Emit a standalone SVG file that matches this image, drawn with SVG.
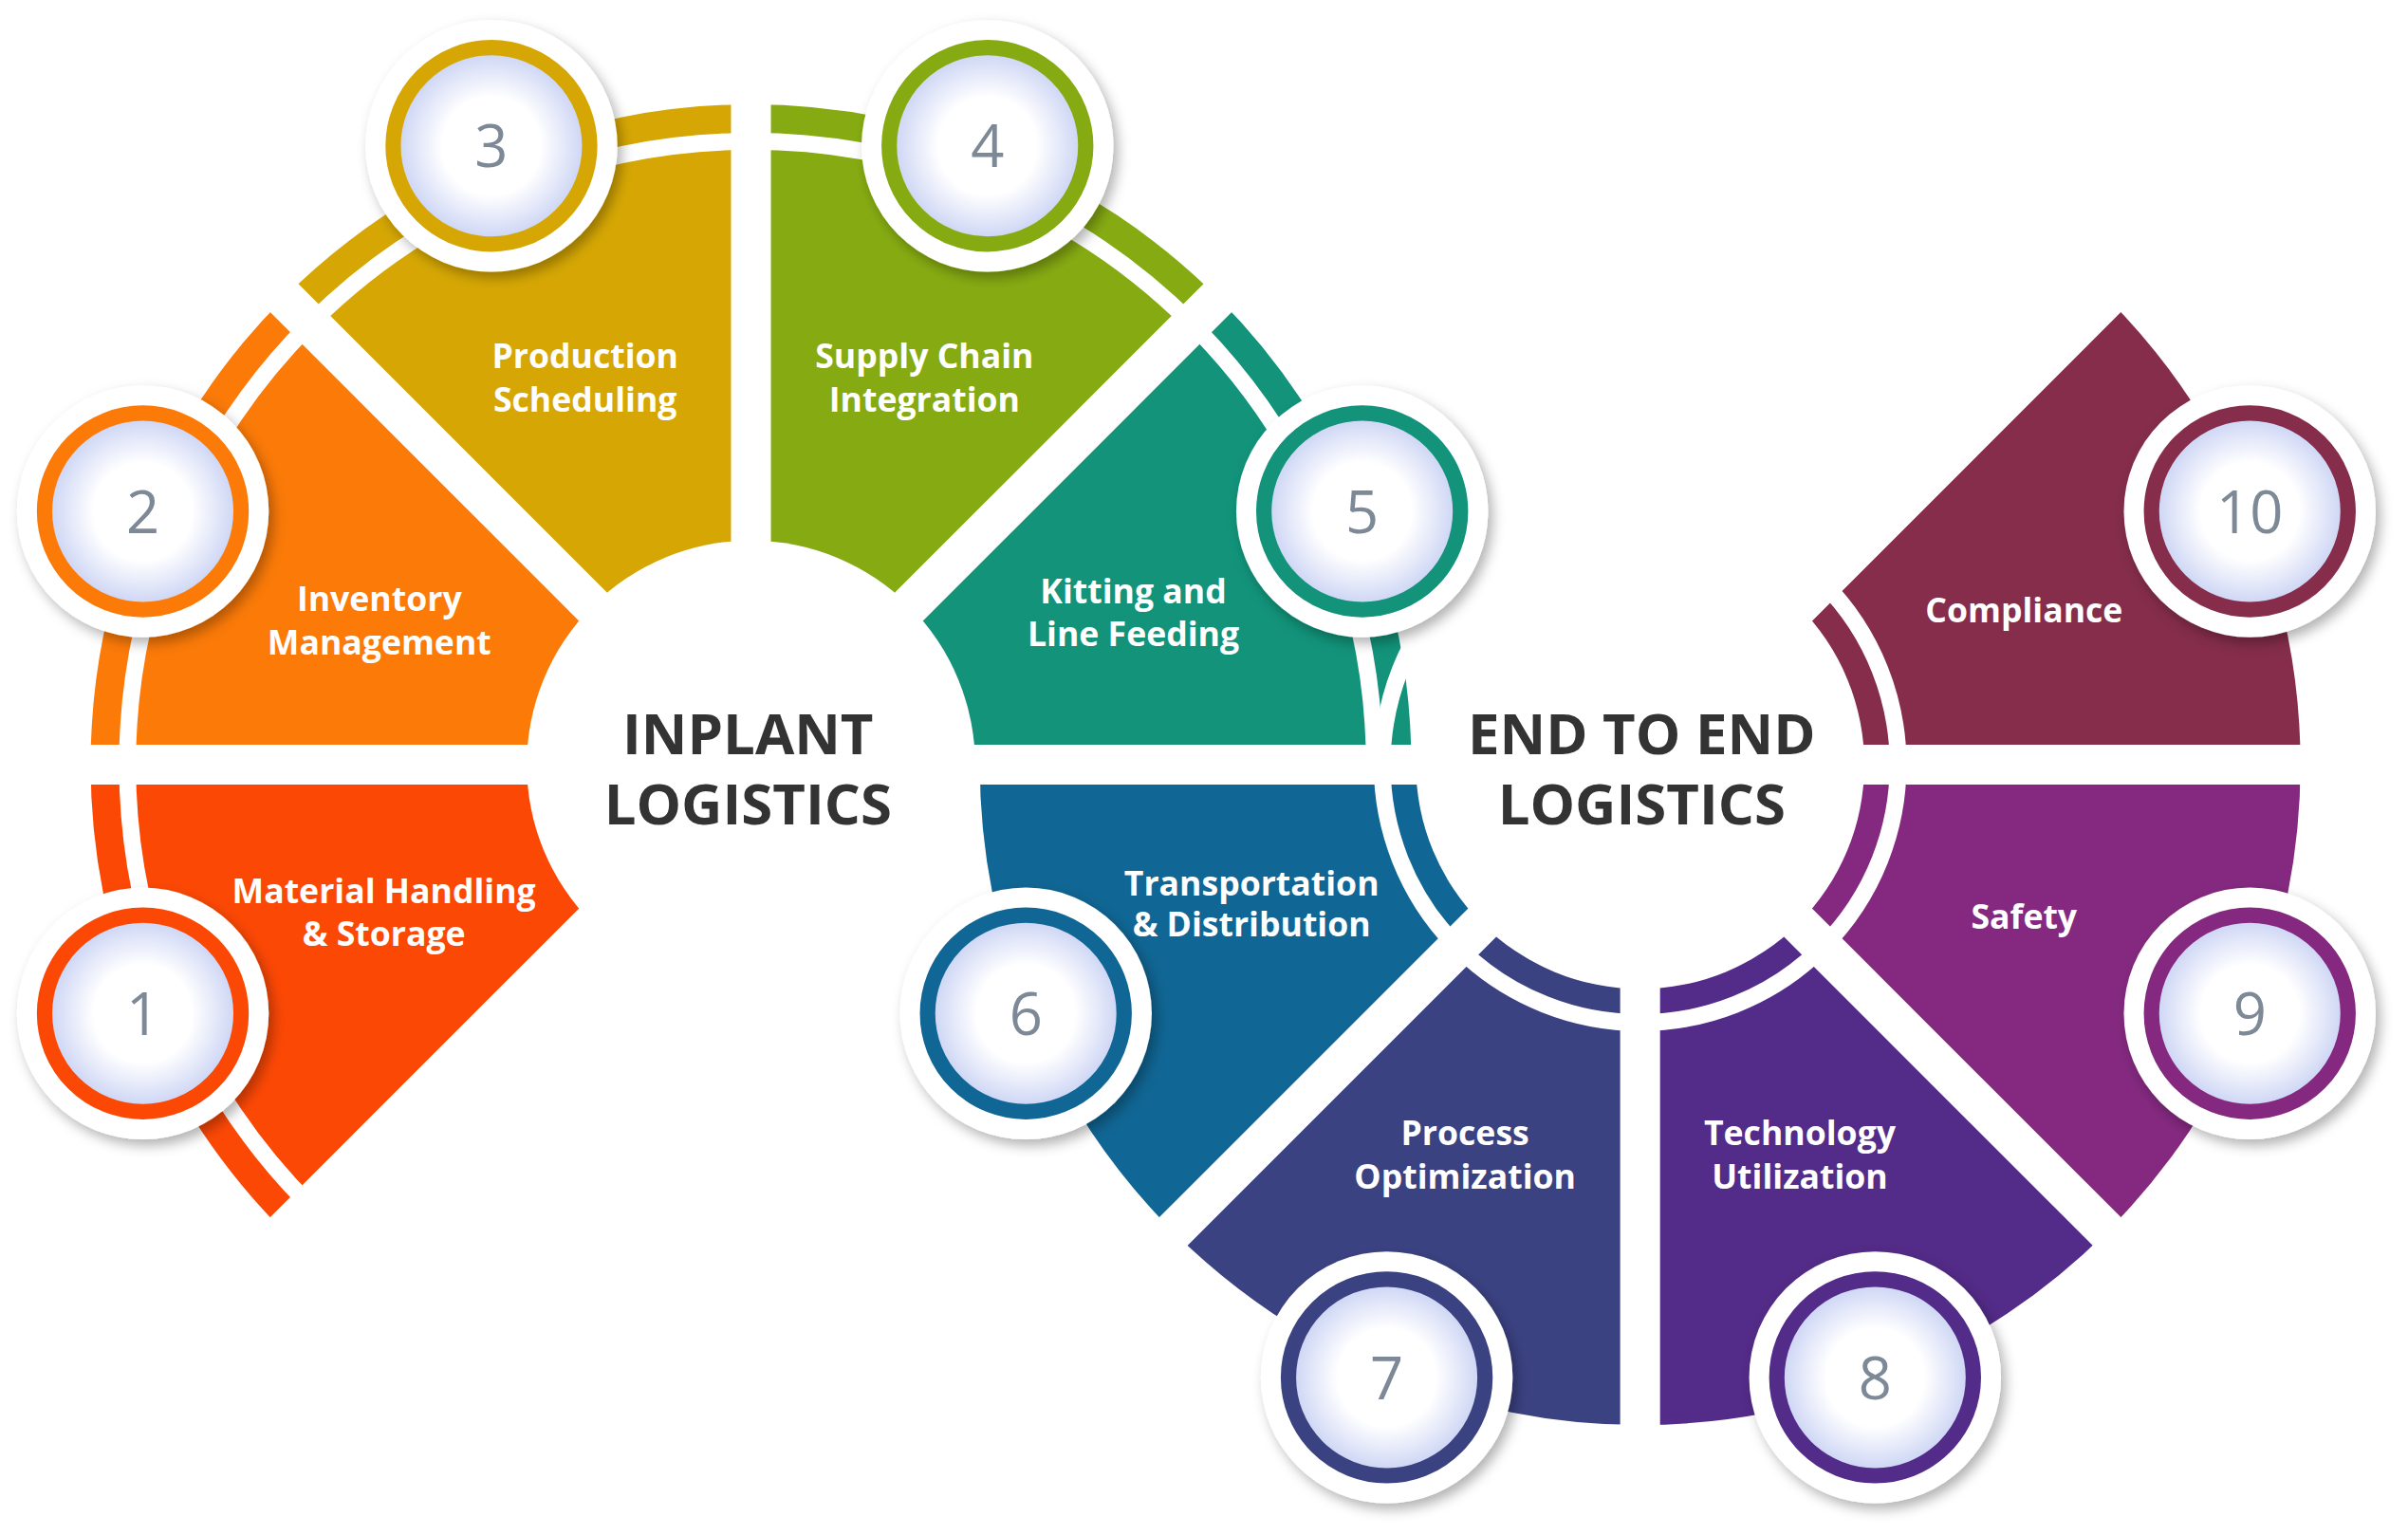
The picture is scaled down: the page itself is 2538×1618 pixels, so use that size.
<svg xmlns="http://www.w3.org/2000/svg" width="2538" height="1618" viewBox="0 0 2538 1618">
<style>
.lbl{font-family:"Open Sans","Liberation Sans",sans-serif;font-weight:700;font-size:22px;fill:#fff;text-anchor:middle}
.ttl{font-family:"Open Sans","Liberation Sans",sans-serif;font-weight:700;font-size:37px;fill:#333;text-anchor:middle}
.num{font-family:"Open Sans","Liberation Sans",sans-serif;font-size:38px;fill:#7d8996;text-anchor:middle}
.gap{stroke:#fff;stroke-width:26;fill:none}
</style>
<defs>
<radialGradient id="bg" cx="50%" cy="50%" r="50%"><stop offset="0.5" stop-color="#fff"/><stop offset="1" stop-color="#c7d0f3"/></radialGradient>
<filter id="sh" x="-30%" y="-30%" width="160%" height="160%"><feDropShadow dx="3" dy="4" stdDeviation="4" flood-color="#000" flood-opacity="0.3"/></filter>
</defs>
<rect width="2538" height="1618" fill="#fff"/>
<g transform="scale(1.6186)">
<g id="inplant">
<path id="seg1" d="M489,498 L184.94,802.06 A430,430 0 0 1 59,498 Z" fill="#fc4805"/>
<path id="seg2" d="M489,498 L59,498 A430,430 0 0 1 184.94,193.94 Z" fill="#fb7a08"/>
<path id="seg3" d="M489,498 L184.94,193.94 A430,430 0 0 1 489,68 Z" fill="#d6a704"/>
<path id="seg4" d="M489,498 L489,68 A430,430 0 0 1 793.06,193.94 Z" fill="#86ab12"/>
<path id="seg5" d="M489,498 L793.06,193.94 A430,430 0 0 1 919,498 Z" fill="#12937a"/>
<circle cx="489" cy="498" r="406" fill="none" stroke="#fff" stroke-width="11"/>
<circle cx="489" cy="498" r="146" fill="#fff"/>
</g>
<g id="endtoend">
<path id="seg6" d="M1068,498 L763.94,802.06 A430,430 0 0 1 638,498 Z" fill="#106694"/>
<path id="seg7" d="M1068,498 L1068,928 A430,430 0 0 1 763.94,802.06 Z" fill="#3b4282"/>
<path id="seg8" d="M1068,498 L1372.06,802.06 A430,430 0 0 1 1068,928 Z" fill="#532b88"/>
<path id="seg9" d="M1068,498 L1498,498 A430,430 0 0 1 1372.06,802.06 Z" fill="#84297f"/>
<path id="seg10" d="M1068,498 L1372.06,193.94 A430,430 0 0 1 1498,498 Z" fill="#852d4a"/>
<circle cx="1068" cy="498" r="168" fill="none" stroke="#fff" stroke-width="11"/>
<circle cx="1068" cy="498" r="146" fill="#fff"/>
</g>
<g id="connectors" class="gap">
<line x1="40" y1="498" x2="1520" y2="498"/>
<line x1="489" y1="498" x2="170" y2="817"/>
<line x1="489" y1="498" x2="170" y2="179"/>
<line x1="489" y1="498" x2="489" y2="50"/>
<line x1="489" y1="498" x2="808" y2="179"/>
<line x1="1068" y1="498" x2="749" y2="817"/>
<line x1="1068" y1="498" x2="1068" y2="945"/>
<line x1="1068" y1="498" x2="1387" y2="817"/>
<line x1="1068" y1="498" x2="1387" y2="179"/>
</g>
<g id="badges">
<g id="b1"><circle cx="93" cy="660" r="82" fill="#fff" filter="url(#sh)"/><circle cx="93" cy="660" r="64" fill="url(#bg)" stroke="#fc4805" stroke-width="10"/><text class="num" x="93" y="674">1</text></g>
<g id="b2"><circle cx="93" cy="333" r="82" fill="#fff" filter="url(#sh)"/><circle cx="93" cy="333" r="64" fill="url(#bg)" stroke="#fb7a08" stroke-width="10"/><text class="num" x="93" y="347">2</text></g>
<g id="b3"><circle cx="320" cy="95" r="82" fill="#fff" filter="url(#sh)"/><circle cx="320" cy="95" r="64" fill="url(#bg)" stroke="#d6a704" stroke-width="10"/><text class="num" x="320" y="109">3</text></g>
<g id="b4"><circle cx="643" cy="95" r="82" fill="#fff" filter="url(#sh)"/><circle cx="643" cy="95" r="64" fill="url(#bg)" stroke="#86ab12" stroke-width="10"/><text class="num" x="643" y="109">4</text></g>
<g id="b5"><circle cx="887" cy="333" r="82" fill="#fff" filter="url(#sh)"/><circle cx="887" cy="333" r="64" fill="url(#bg)" stroke="#12937a" stroke-width="10"/><text class="num" x="887" y="347">5</text></g>
<g id="b6"><circle cx="668" cy="660" r="82" fill="#fff" filter="url(#sh)"/><circle cx="668" cy="660" r="64" fill="url(#bg)" stroke="#106694" stroke-width="10"/><text class="num" x="668" y="674">6</text></g>
<g id="b7"><circle cx="903" cy="897" r="82" fill="#fff" filter="url(#sh)"/><circle cx="903" cy="897" r="64" fill="url(#bg)" stroke="#3b4282" stroke-width="10"/><text class="num" x="903" y="911">7</text></g>
<g id="b8"><circle cx="1221" cy="897" r="82" fill="#fff" filter="url(#sh)"/><circle cx="1221" cy="897" r="64" fill="url(#bg)" stroke="#532b88" stroke-width="10"/><text class="num" x="1221" y="911">8</text></g>
<g id="b9"><circle cx="1465" cy="660" r="82" fill="#fff" filter="url(#sh)"/><circle cx="1465" cy="660" r="64" fill="url(#bg)" stroke="#84297f" stroke-width="10"/><text class="num" x="1465" y="674">9</text></g>
<g id="b10"><circle cx="1465" cy="333" r="82" fill="#fff" filter="url(#sh)"/><circle cx="1465" cy="333" r="64" fill="url(#bg)" stroke="#852d4a" stroke-width="10"/><text class="num" x="1465" y="347">10</text></g>
</g>
<g id="labels">
<text class="lbl" x="250" y="588">Material Handling</text><text class="lbl" x="250" y="616">&amp; Storage</text>
<text class="lbl" x="247" y="398">Inventory</text><text class="lbl" x="247" y="426">Management</text>
<text class="lbl" x="381" y="240">Production</text><text class="lbl" x="381" y="268">Scheduling</text>
<text class="lbl" x="602" y="240">Supply Chain</text><text class="lbl" x="602" y="268">Integration</text>
<text class="lbl" x="738" y="393">Kitting and</text><text class="lbl" x="738" y="421">Line Feeding</text>
<text class="lbl" x="815" y="583">Transportation</text><text class="lbl" x="815" y="610">&amp; Distribution</text>
<text class="lbl" x="954" y="746">Process</text><text class="lbl" x="954" y="774">Optimization</text>
<text class="lbl" x="1172" y="746">Technology</text><text class="lbl" x="1172" y="774">Utilization</text>
<text class="lbl" x="1318" y="605">Safety</text>
<text class="lbl" x="1318" y="405">Compliance</text>
<text class="ttl" x="487" y="491">INPLANT</text><text class="ttl" x="487" y="537">LOGISTICS</text>
<text class="ttl" x="1069" y="491">END TO END</text><text class="ttl" x="1069" y="537">LOGISTICS</text>
</g>
</g>
</svg>
